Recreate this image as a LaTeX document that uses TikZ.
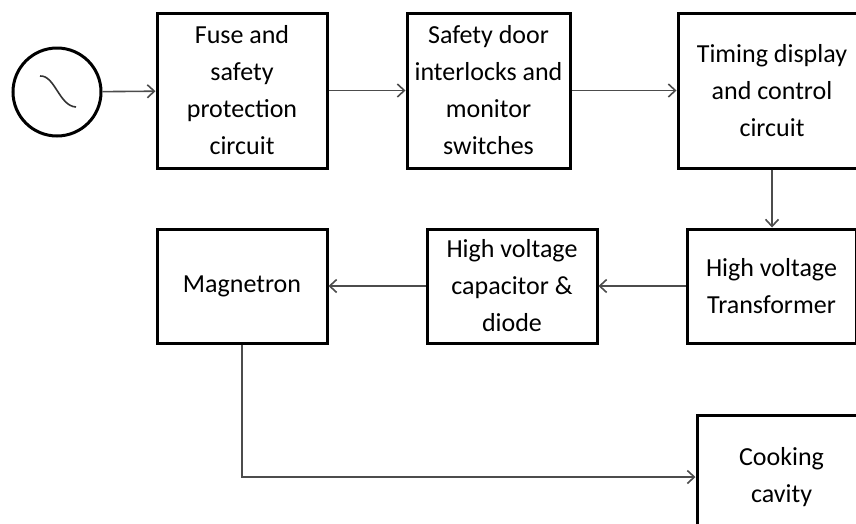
\documentclass[tikz,border=0pt]{standalone}
\usepackage{fontspec}
\setmainfont{Carlito}
\usetikzlibrary{arrows.meta, positioning, calc}

\begin{document}
\begin{tikzpicture}[
		x=1pt, y=-1pt,
		font=\fontsize{26}{37}\selectfont,
		arrow/.style={-{Straight Barb[length=7pt, width=13pt]}, line width=1.6pt, draw=black!70},
		blk/.style={rectangle, draw=black, line width=3pt, align=center, inner sep=0pt},
		src/.style={circle, draw=black, line width=3pt, minimum size=88pt, inner sep=0pt}
		]
		\useasboundingbox (0,0) rectangle (856,523);
		\clip (0,0) rectangle (856,523);
		
		% 1. Supply and first row
		\node[src] (ac) at (57,92) {};
		\draw[line width=1.6pt, draw=black!80] ($(ac)+(-17,-16)$) .. controls ($(ac)+(-2,-17)$) and ($(ac)+(2,14)$) .. ($(ac)+(19,15)$);
		\node[blk, minimum width=170pt, minimum height=155pt] (fuse) at (242,90.5) {Fuse and\\safety\\protection\\circuit};
		\node[blk, minimum width=163pt, minimum height=155pt] (door) at (488.5,90.5) {Safety door\\interlocks and\\monitor\\switches};
		\node[blk, minimum width=188pt, minimum height=155pt] (timer) at (772,90.5) {Timing display\\and control\\circuit};
		
		% 2. Second row
		\node[blk, minimum width=169pt, minimum height=114pt] (hvt) at (771.5,286) {High voltage\\Transformer};
		\node[blk, minimum width=170pt, minimum height=114pt] (hvcap) at (512,286) {High voltage\\capacitor \&\\diode};
		\node[blk, minimum width=170pt, minimum height=114pt] (magnetron) at (242,286) {Magnetron};
		
		% 3. Cavity
		\node[blk, minimum width=169pt, minimum height=124pt] (cavity) at (781.5,477) {Cooking\\cavity};
		
		% Arrows
		\draw[arrow] (ac) -- (fuse);
		\draw[arrow] (fuse) -- (door);
		\draw[arrow] (door) -- (timer);
		\draw[arrow] (timer.south) -- (timer.south |- hvt.north);
		\draw[arrow] (hvt) -- (hvcap);
		\draw[arrow] (hvcap) -- (magnetron);
		\draw[arrow] (magnetron.south) |- (cavity.west);
	\end{tikzpicture}
\end{document}
